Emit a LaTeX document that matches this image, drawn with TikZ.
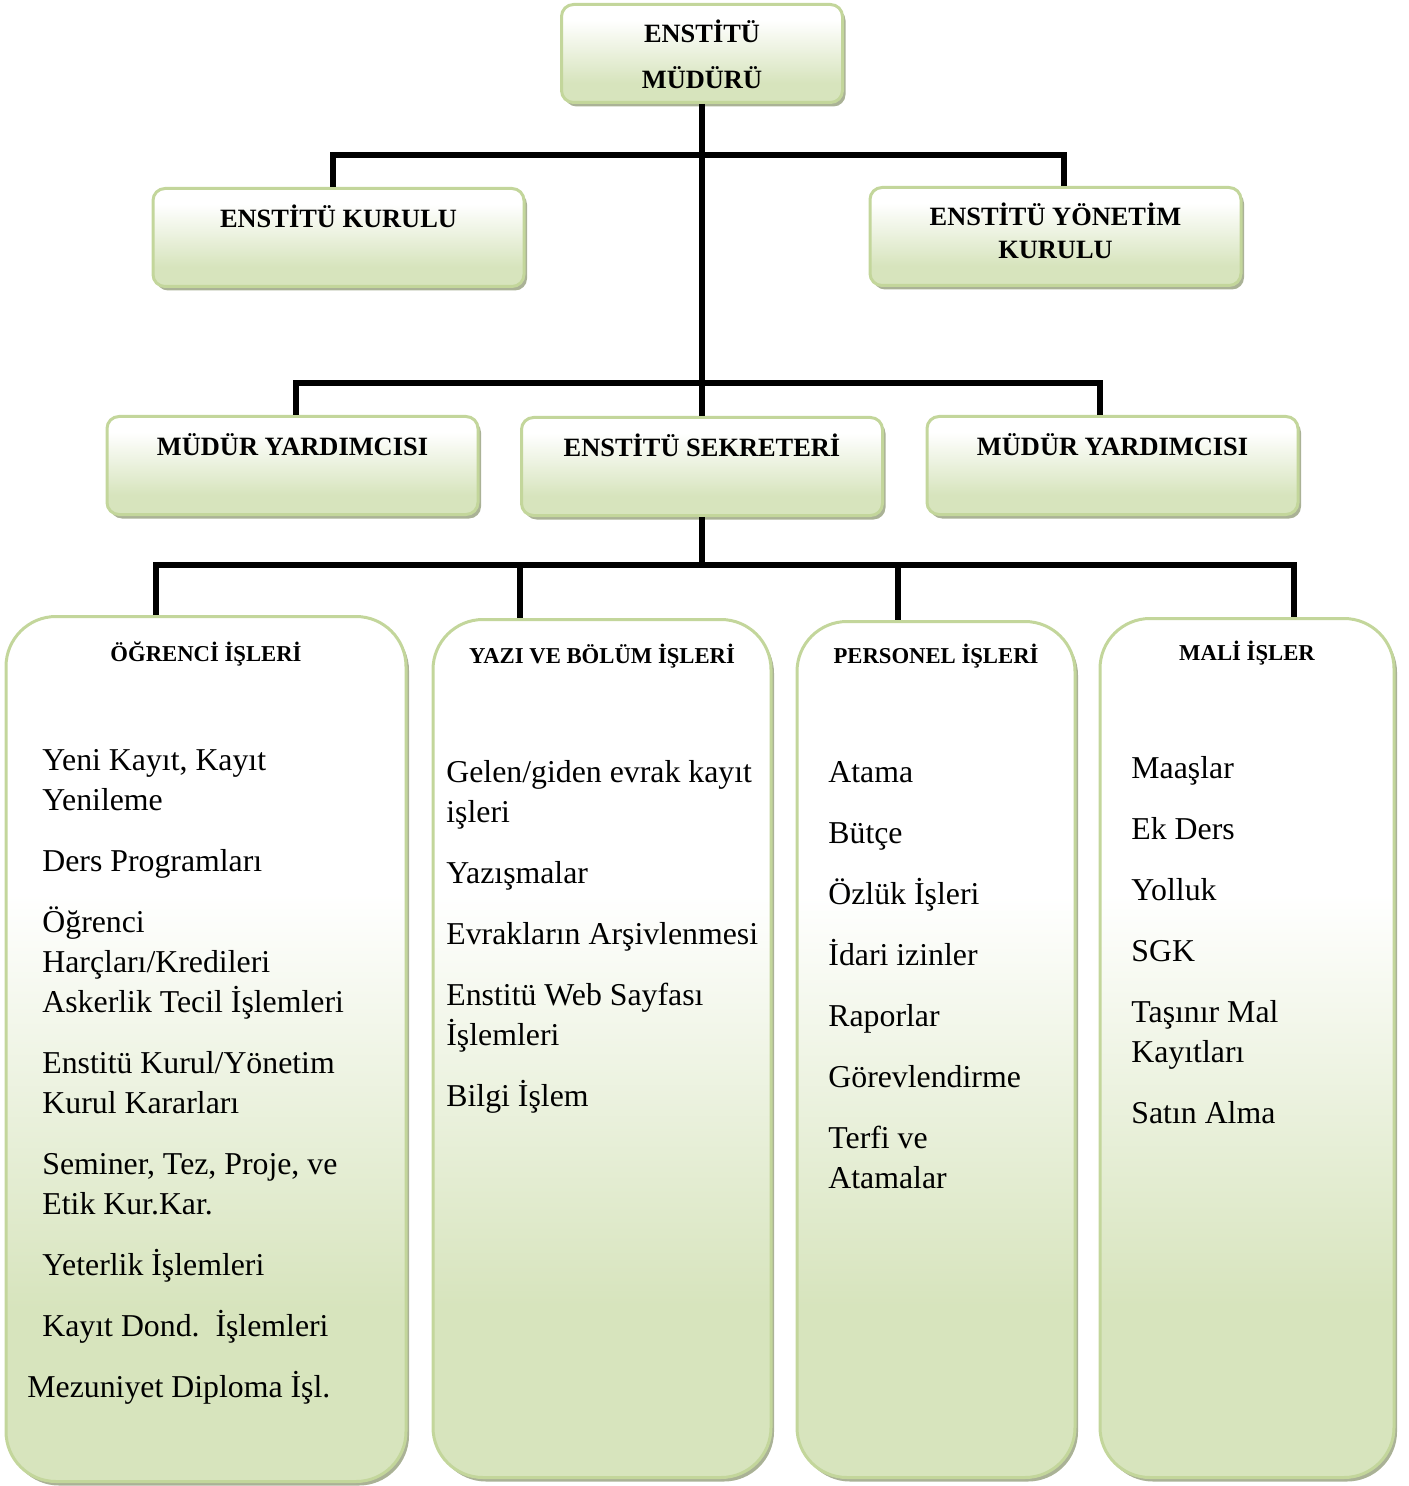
\documentclass[tikz,border=0pt]{standalone}
\usepackage{fontspec}
\setmainfont{Liberation Serif}
\usepackage{xcolor}
\usepackage{tikz}
\usetikzlibrary{shadows}

\definecolor{boxgreen}{HTML}{D7E4BD}
\definecolor{boxedge}{HTML}{C3D69B}
\definecolor{boxshadow}{RGB}{170,178,150}
\pgfdeclareverticalshading{smallfill}{100bp}{color(0bp)=(boxgreen); color(35bp)=(boxgreen); color(67bp)=(white); color(100bp)=(white)}
\pgfdeclareverticalshading{bigfill}{100bp}{color(0bp)=(boxgreen); color(35bp)=(boxgreen); color(59bp)=(white); color(100bp)=(white)}

\begin{document}
\begin{tikzpicture}[x=0.5pt, y=-0.5pt,
    box/.style={draw=boxedge, line width=1.5pt, shade, shading=smallfill, inner sep=0pt, anchor=north, align=center,
        drop shadow={shadow xshift=1.5pt, shadow yshift=-2pt, fill=boxshadow, opacity=1},
        font=\bfseries\fontsize{13.2}{16.5}\selectfont},
    small_box/.style={box, rounded corners=6pt, minimum width=185.5pt, text height=19.5pt, text depth=29.5pt},
    big_box/.style={box, rounded corners=25pt, shading=bigfill, text height=22pt, text depth=407pt,
        font=\bfseries\fontsize{11.35}{13}\selectfont},
    item_list/.style={anchor=base west, inner sep=0pt, align=left, font=\fontsize{15.9}{20}\selectfont},
    conn/.style={line width=3pt}]
    \useasboundingbox (0,0) rectangle (1408,1486);

    \node[small_box, minimum width=140.5pt, text height=42pt, text depth=7pt] (mudur) at (702,3) {ENSTİTÜ\\[6.5pt]MÜDÜRÜ};
    \node[small_box] (enstitu_kurulu) at (338.5,187) {ENSTİTÜ KURULU};
    \node[small_box, text height=35.5pt, text depth=13.5pt] (yonetim_kurulu) at (1055.5,186) {ENSTİTÜ YÖNETİM\\KURULU};
    \node[small_box] (yardimci_sol) at (292.5,415) {MÜDÜR YARDIMCISI};
    \node[small_box, minimum width=180.5pt] (sekreter) at (702,416) {ENSTİTÜ SEKRETERİ};
    \node[small_box] (yardimci_sag) at (1112.5,415) {MÜDÜR YARDIMCISI};

    \node[big_box, minimum width=200pt, text height=22.5pt, text depth=410pt] (ogrenci) at (206,615) {ÖĞRENCİ İŞLERİ};
    \node[big_box, minimum width=169pt] (yazi) at (602,618) {YAZI VE BÖLÜM İŞLERİ};
    \node[big_box, minimum width=139pt, text height=21pt] (personel) at (936,620) {PERSONEL İŞLERİ};
    \node[big_box, minimum width=147pt, text height=21pt, text depth=408.5pt] (mali) at (1247,617) {MALİ İŞLER};

    \node[item_list] (ogrenci_list) at (42,1397) {Yeni Kayıt, Kayıt\\Yenileme\\[10.5pt]Ders Programları\\[10.5pt]Öğrenci\\Harçları/Kredileri\\Askerlik Tecil İşlemleri\\[10.5pt]Enstitü Kurul/Yönetim\\Kurul Kararları\\[10.5pt]Seminer, Tez, Proje, ve\\Etik Kur.Kar.\\[10.5pt]Yeterlik İşlemleri\\[10.5pt]Kayıt Dond.\ \ İşlemleri\\[10.5pt]\hspace*{-7.5pt}Mezuniyet Diploma İşl.};
    \node[item_list] (yazi_list) at (446,1106) {Gelen/giden evrak kayıt\\işleri\\[10.5pt]Yazışmalar\\[10.5pt]Evrakların Arşivlenmesi\\[10.5pt]Enstitü Web Sayfası\\İşlemleri\\[10.5pt]Bilgi İşlem};
    \node[item_list] (personel_list) at (828,1188) {Atama\\[10.5pt]Bütçe\\[10.5pt]Özlük İşleri\\[10.5pt]İdari izinler\\[10.5pt]Raporlar\\[10.5pt]Görevlendirme\\[10.5pt]Terfi ve\\Atamalar};
    \node[item_list] (mali_list) at (1131,1123) {Maaşlar\\[10.5pt]Ek Ders\\[10.5pt]Yolluk\\[10.5pt]SGK\\[10.5pt]Taşınır Mal\\Kayıtları\\[10.5pt]Satın Alma};

    \coordinate (top_left) at (333,155);
    \coordinate (top_right) at (1064,155);
    \coordinate (mid_left) at (296,383);
    \coordinate (mid_right) at (1100,383);
    \coordinate (low_left) at (156,565);
    \coordinate (low_right) at (1294,565);

    \draw[conn] (mudur.south) -- (sekreter.north);
    \draw[conn] (top_left |- enstitu_kurulu.north) |- (top_right) -- (top_right |- yonetim_kurulu.north);
    \draw[conn] (mid_left |- yardimci_sol.north) |- (mid_right) -- (mid_right |- yardimci_sag.north);
    \draw[conn] (sekreter.south) -- (sekreter.south |- low_left);
    \draw[conn] (low_left |- ogrenci.north) |- (low_right) -- (low_right |- mali.north);
    \foreach \x/\n in {520/yazi, 898/personel}
        \draw[conn] (\x,565) -- (\x,565 |- \n.north);
\end{tikzpicture}
\end{document}
